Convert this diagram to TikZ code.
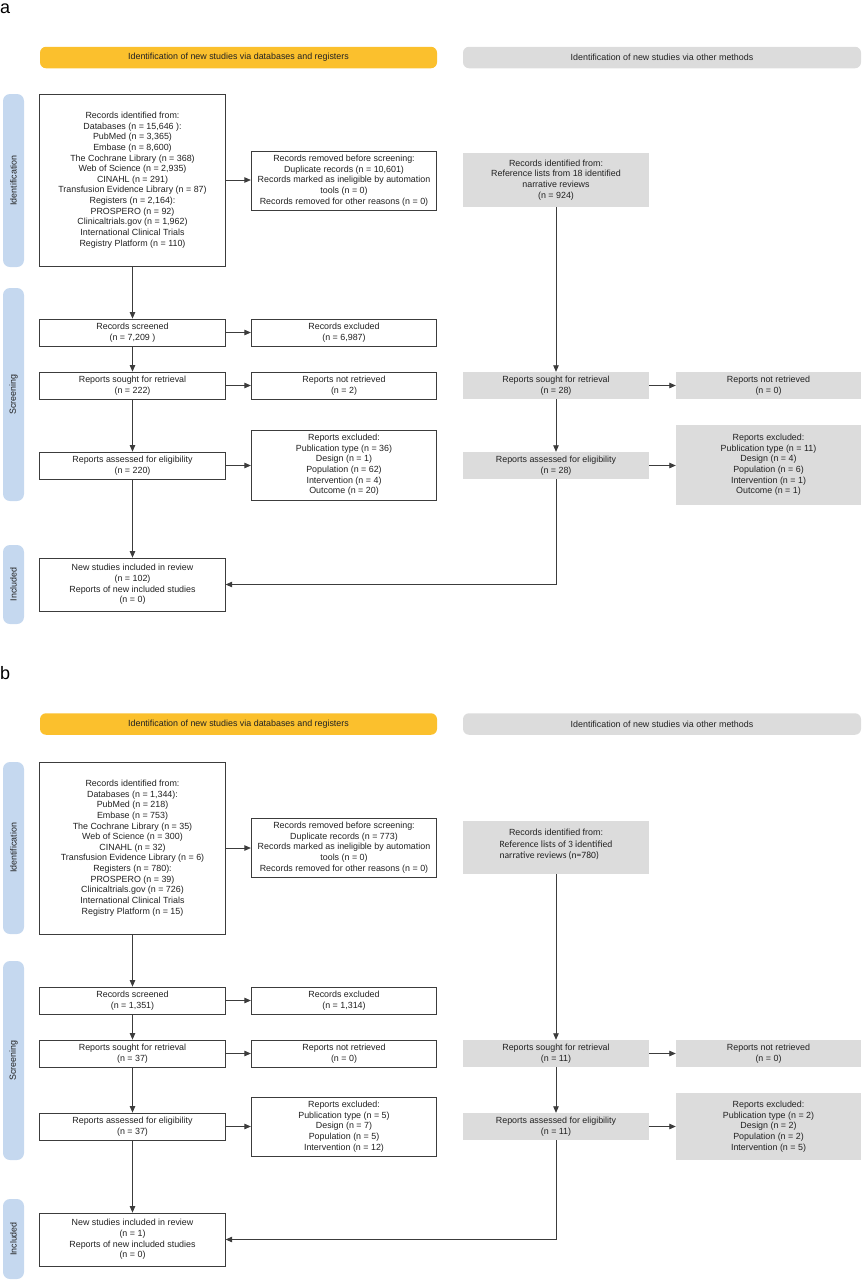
\documentclass[tikz,border=0pt]{standalone}
\usepackage{fontspec}
\setmainfont{Liberation Sans}
\newfontfamily\calfont{Carlito}
\usetikzlibrary{arrows.meta}
\definecolor{hdrY}{HTML}{FBC02D}
\definecolor{hdrG}{HTML}{DCDCDC}
\definecolor{sideB}{HTML}{C5D8EF}
\definecolor{lineC}{HTML}{3C3C3C}
\definecolor{txtC}{HTML}{222222}
\begin{document}
\begin{tikzpicture}[x=1pt,y=-1pt,
  every node/.style={font=\fontsize{8.9}{10.64}\selectfont, text=txtC, inner sep=0pt, align=center},
  wbox/.style={draw=lineC, line width=0.8pt, fill=white, minimum width=185.5pt},
  gbox/.style={fill=hdrG, minimum width=186pt},
  hdrbox/.style={rounded corners=6pt, minimum width=397pt, minimum height=21.5pt},
  sidebar/.style={fill=sideB, rounded corners=7pt, minimum height=21pt, rotate=90},
  panellabel/.style={font=\fontsize{18}{18}\selectfont, text=black, anchor=base west},
  arr/.style={draw=lineC, line width=0.8pt, -{Triangle[length=6.5pt,width=5.5pt]}}
]
\useasboundingbox (0,0) rectangle (863,1280);

% ================= Panel a =================
\node[panellabel] (la) at (0,13) {a};
\node[hdrbox, fill=hdrY] (aHy) at (238.5,57.5) {Identification of new studies via databases and registers};
\node[hdrbox, fill=hdrG, minimum width=398pt] (aHg) at (662,57.5) {Identification of new studies via other methods};

\node[sidebar, minimum width=173pt] (aSi) at (13.5,180.5) {Identification};
\node[sidebar, minimum width=213pt] (aSs) at (13.5,394.5) {Screening};
\node[sidebar, minimum width=79pt] (aSn) at (13.5,584.5) {Included};

\node[wbox, minimum height=172pt] (aId) at (132.5,180) {Records identified from:\\Databases (n = 15,646 ):\\PubMed (n = 3,365)\\Embase (n = 8,600)\\The Cochrane Library (n = 368)\\Web of Science (n = 2,935)\\CINAHL (n = 291)\\Transfusion Evidence Library (n = 87)\\Registers (n = 2,164):\\PROSPERO (n = 92)\\Clinicaltrials.gov (n = 1,962)\\International Clinical Trials\\Registry Platform (n = 110)};
\node[wbox, minimum height=59pt] (aRem) at (344,180.5) {Records removed before screening:\\Duplicate records (n = 10,601)\\Records marked as ineligible by automation\\tools (n = 0)\\Records removed for other reasons (n = 0)};
\node[gbox, minimum height=54pt] (aOid) at (556,180) {Records identified from:\\Reference lists from 18 identified\\narrative reviews\\(n = 924)};

\node[wbox, minimum height=27pt] (aScr) at (132.5,332.5) {Records screened\\(n = 7,209 )};
\node[wbox, minimum height=27pt] (aExc) at (344,332.5) {Records excluded\\(n = 6,987)};
\node[wbox, minimum height=27pt] (aSou) at (132.5,385.5) {Reports sought for retrieval\\(n = 222)};
\node[wbox, minimum height=27pt] (aNr) at (344,385.5) {Reports not retrieved\\(n = 2)};
\node[wbox, minimum height=27pt] (aAss) at (132.5,465.5) {Reports assessed for eligibility\\(n = 220)};
\node[wbox, minimum height=70pt] (aExl) at (344,465) {Reports excluded:\\Publication type (n = 36)\\Design (n = 1)\\Population (n = 62)\\Intervention (n = 4)\\Outcome (n = 20)};
\node[wbox, minimum height=53pt] (aInc) at (132.5,584.5) {New studies included in review\\(n = 102)\\Reports of new included studies\\(n = 0)};

\node[gbox, minimum height=27pt] (aoSou) at (556,385.5) {Reports sought for retrieval\\(n = 28)};
\node[gbox, minimum height=27pt, minimum width=185pt] (aoNr) at (768.5,385.5) {Reports not retrieved\\(n = 0)};
\node[gbox, minimum height=27pt] (aoAss) at (556,465.5) {Reports assessed for eligibility\\(n = 28)};
\node[gbox, minimum height=80pt, minimum width=185pt] (aoExl) at (768.5,465) {Reports excluded:\\Publication type (n = 11)\\Design (n = 4)\\Population (n = 6)\\Intervention (n = 1)\\Outcome (n = 1)};

\draw[arr] (aId) -- (aScr);
\draw[arr] (aId.east) -- (aId.east -| aRem.west);
\draw[arr] (aScr) -- (aSou);
\draw[arr] (aSou) -- (aAss);
\draw[arr] (aAss) -- (aInc);
\draw[arr] (aScr) -- (aExc);
\draw[arr] (aSou) -- (aNr);
\draw[arr] (aAss.east) -- (aAss.east -| aExl.west);
\draw[arr] (aOid) -- (aoSou);
\draw[arr] (aoSou) -- (aoAss);
\draw[arr] (aoSou) -- (aoNr);
\draw[arr] (aoAss.east) -- (aoAss.east -| aoExl.west);
\draw[arr] (aoAss.south) |- (aInc.east);

% ================= Panel b =================
\node[panellabel] (lb) at (0,679) {b};
\node[hdrbox, fill=hdrY] (bHy) at (238.5,724) {Identification of new studies via databases and registers};
\node[hdrbox, fill=hdrG, minimum width=398pt] (bHg) at (662,724) {Identification of new studies via other methods};

\node[sidebar, minimum width=172pt] (bSi) at (13.5,848) {Identification};
\node[sidebar, minimum width=199pt] (bSs) at (13.5,1060.5) {Screening};
\node[sidebar, minimum width=80pt] (bSn) at (13.5,1239) {Included};

\node[wbox, minimum height=172pt] (bId) at (132.5,848) {Records identified from:\\Databases (n = 1,344):\\PubMed (n = 218)\\Embase (n = 753)\\The Cochrane Library (n = 35)\\Web of Science (n = 300)\\CINAHL (n = 32)\\Transfusion Evidence Library (n = 6)\\Registers (n = 780):\\PROSPERO (n = 39)\\Clinicaltrials.gov (n = 726)\\International Clinical Trials\\Registry Platform (n = 15)};
\node[wbox, minimum height=59pt] (bRem) at (344,847.5) {Records removed before screening:\\Duplicate records (n = 773)\\Records marked as ineligible by automation\\tools (n = 0)\\Records removed for other reasons (n = 0)};
\node[gbox, minimum height=53pt] (bOid) at (556,847.5) {Records identified from:\\[1pt]{\calfont\fontsize{9.6}{11}\selectfont\begin{tabular}[t]{@{}l@{}}Reference lists of 3 identified\\narrative reviews (n=780)\end{tabular}}\\[3pt]};

\node[wbox, minimum height=27pt] (bScr) at (132.5,1000.5) {Records screened\\(n = 1,351)};
\node[wbox, minimum height=27pt] (bExc) at (344,1000.5) {Records excluded\\(n = 1,314)};
\node[wbox, minimum height=27pt] (bSou) at (132.5,1053.5) {Reports sought for retrieval\\(n = 37)};
\node[wbox, minimum height=27pt] (bNr) at (344,1053.5) {Reports not retrieved\\(n = 0)};
\node[wbox, minimum height=27pt] (bAss) at (132.5,1126.5) {Reports assessed for eligibility\\(n = 37)};
\node[wbox, minimum height=59pt] (bExl) at (344,1126.5) {Reports excluded:\\Publication type (n = 5)\\Design (n = 7)\\Population (n = 5)\\Intervention (n = 12)};
\node[wbox, minimum height=53pt] (bInc) at (132.5,1239.5) {New studies included in review\\(n = 1)\\Reports of new included studies\\(n = 0)};

\node[gbox, minimum height=27pt] (boSou) at (556,1053.5) {Reports sought for retrieval\\(n = 11)};
\node[gbox, minimum height=27pt, minimum width=185pt] (boNr) at (768.5,1053.5) {Reports not retrieved\\(n = 0)};
\node[gbox, minimum height=27pt] (boAss) at (556,1126.5) {Reports assessed for eligibility\\(n = 11)};
\node[gbox, minimum height=67pt, minimum width=185pt] (boExl) at (768.5,1126.5) {Reports excluded:\\Publication type (n = 2)\\Design (n = 2)\\Population (n = 2)\\Intervention (n = 5)};

\draw[arr] (bId) -- (bScr);
\draw[arr] (bId.east) -- (bId.east -| bRem.west);
\draw[arr] (bScr) -- (bSou);
\draw[arr] (bSou) -- (bAss);
\draw[arr] (bAss) -- (bInc);
\draw[arr] (bScr) -- (bExc);
\draw[arr] (bSou) -- (bNr);
\draw[arr] (bAss.east) -- (bAss.east -| bExl.west);
\draw[arr] (bOid) -- (boSou);
\draw[arr] (boSou) -- (boAss);
\draw[arr] (boSou) -- (boNr);
\draw[arr] (boAss.east) -- (boAss.east -| boExl.west);
\draw[arr] (boAss.south) |- (bInc.east);
\end{tikzpicture}
\end{document}
